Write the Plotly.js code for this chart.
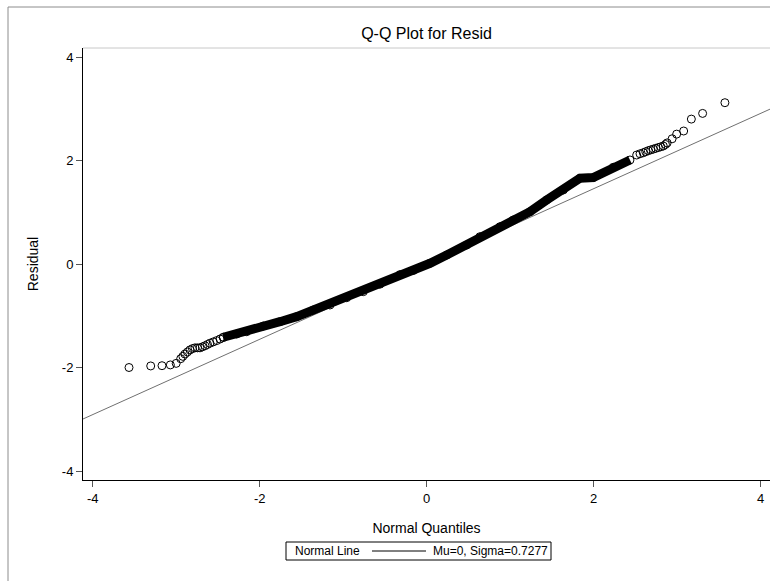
<!DOCTYPE html>
<html><head><meta charset="utf-8">
<script src="https://cdn.plot.ly/plotly-3.0.1.min.js"></script>
<style>html,body{margin:0;padding:0;background:#fff}#chart{width:770px;height:581px}</style>
</head><body><div id="chart"></div>
<script>
// Lower tail (individually visible circles)
const lowTailQ = [-3.565, -3.305, -3.17, -3.07, -3.00, -2.946, -2.92, -2.895, -2.865, -2.835, -2.805, -2.775, -2.745, -2.715, -2.685, -2.655, -2.625, -2.595, -2.555, -2.515, -2.475, -2.435];
const lowTailR = [-2.00, -1.97, -1.965, -1.95, -1.92, -1.83, -1.785, -1.74, -1.70, -1.66, -1.635, -1.62, -1.62, -1.62, -1.60, -1.58, -1.555, -1.53, -1.505, -1.48, -1.45, -1.42];
// Dense central band
const bandQ = [-2.436, -2.275, -2.156, -1.957, -1.757, -1.557, -1.358, -1.158, -0.958, -0.759, -0.559, -0.320, -0.160, 0.040, 0.240, 0.479, 0.638, 0.878, 1.037, 1.237, 1.437, 1.636, 1.836, 1.995, 2.235, 2.435];
const bandR = [-1.416, -1.353, -1.308, -1.198, -1.115, -1.018, -0.889, -0.792, -0.651, -0.535, -0.39, -0.205, -0.125, 0.014, 0.174, 0.367, 0.528, 0.721, 0.850, 1.011, 1.237, 1.430, 1.656, 1.670, 1.869, 2.010];
// Upper tail
const highTailQ = [2.515, 2.555, 2.594, 2.624, 2.654, 2.684, 2.714, 2.744, 2.774, 2.804, 2.834, 2.86, 2.88, 2.94, 2.994, 3.078, 3.17, 3.305, 3.572];
const highTailR = [2.106, 2.13, 2.15, 2.17, 2.19, 2.205, 2.22, 2.235, 2.25, 2.265, 2.28, 2.31, 2.34, 2.42, 2.51, 2.57, 2.80, 2.91, 3.117];

// Normal reference line parameters
const mu = 0;
const sigma = 0.7277;
const lineQ = [-4.2, 4.2];

// Ticks
const xTickVals = [-4, -2, 0, 2, 4];
const xTickText = ['-4', '-2', '0', '2', '4'];
const yTickVals = [-4, -2, 0, 2, 4];
const yTickText = ['-4', '-2', '0', '2', '4'];

// Legend texts
const legendLabel = 'Normal Line';
const legendEntry = 'Mu=0, Sigma=0.7277';

const allQ = lowTailQ.concat(bandQ, highTailQ);
const allR = lowTailR.concat(bandR, highTailR);

const font = 'Liberation Sans, Arial, Helvetica, sans-serif';

// pixel -> paper helpers (plot area: x 83..770, y 48..480)
const px = v => (v - 83) / 687;
const py = v => (480 - v) / 432;

const traces = [
  {
    x: lineQ, y: lineQ.map(q => mu + sigma * q),
    type: 'scatter', mode: 'lines',
    name: legendEntry,
    line: {color: '#707070', width: 1},
    showlegend: false, hoverinfo: 'skip'
  },
  {
    x: bandQ, y: bandR,
    type: 'scatter', mode: 'lines',
    line: {color: '#000', width: 9},
    showlegend: false, hoverinfo: 'skip'
  },
  {
    x: allQ, y: allR,
    type: 'scatter', mode: 'markers',
    marker: {symbol: 'circle-open', size: 8, color: '#000', line: {width: 1, color: '#000'}},
    showlegend: false
  }
];

const layout = {
  width: 770, height: 581,
  margin: {l: 83, r: 0, t: 48, b: 101},
  paper_bgcolor: '#fff', plot_bgcolor: '#fff',
  font: {family: font, size: 13, color: '#000'},
  showlegend: false,
  title: {text: 'Q-Q Plot for Resid', font: {family: font, size: 16, color: '#000'},
          x: 0.5, xref: 'paper', xanchor: 'center', y: 1 - 33 / 581, yref: 'container', yanchor: 'middle'},
  xaxis: {
    range: [-4.116, 4.112], tickvals: xTickVals, ticktext: xTickText,
    ticks: 'outside', ticklen: 6, tickcolor: '#555', tickwidth: 1,
    showline: true, linecolor: '#000', linewidth: 1, showgrid: false, zeroline: false,
    tickfont: {size: 13, color: '#000'},
    title: {text: 'Normal Quantiles', font: {size: 14, color: '#000'}, standoff: 18}
  },
  yaxis: {
    range: [-4.174, 4.174], tickvals: yTickVals, ticktext: yTickText,
    ticks: 'outside', ticklen: 6, tickcolor: '#555', tickwidth: 1,
    showline: true, linecolor: '#000', linewidth: 1, showgrid: false, zeroline: false,
    tickfont: {size: 13, color: '#000'},
    title: {text: 'Residual', font: {size: 14, color: '#000'}, standoff: 19}
  },
  annotations: [
    {xref: 'paper', yref: 'paper', x: px(293), y: py(551), xanchor: 'left', yanchor: 'middle',
     text: legendLabel, showarrow: false, font: {size: 12, color: '#000'}},
    {xref: 'paper', yref: 'paper', x: px(431), y: py(551), xanchor: 'left', yanchor: 'middle',
     text: legendEntry, showarrow: false, font: {size: 12, color: '#000'}}
  ],
  shapes: [
    {type: 'line', xref: 'paper', yref: 'paper', x0: 0, x1: 1, y0: 1, y1: 1, line: {color: '#c8c8c8', width: 1}},
    {type: 'line', xref: 'paper', yref: 'paper', x0: px(8), x1: px(8), y0: py(7), y1: py(600), line: {color: '#8c8c8c', width: 1}},
    {type: 'line', xref: 'paper', yref: 'paper', x0: px(8), x1: px(775), y0: py(7), y1: py(7), line: {color: '#8c8c8c', width: 1}},
    // legend box and sample line
    {type: 'rect', xref: 'paper', yref: 'paper', x0: px(286), x1: px(551), y0: py(542), y1: py(560), line: {color: '#000', width: 1}, fillcolor: 'rgba(0,0,0,0)'},
    {type: 'line', xref: 'paper', yref: 'paper', x0: px(372), x1: px(426), y0: py(551), y1: py(551), line: {color: '#000', width: 1}}
  ]
};

Plotly.newPlot('chart', traces, layout, {staticPlot: true, displayModeBar: false});
</script>
</body></html>
